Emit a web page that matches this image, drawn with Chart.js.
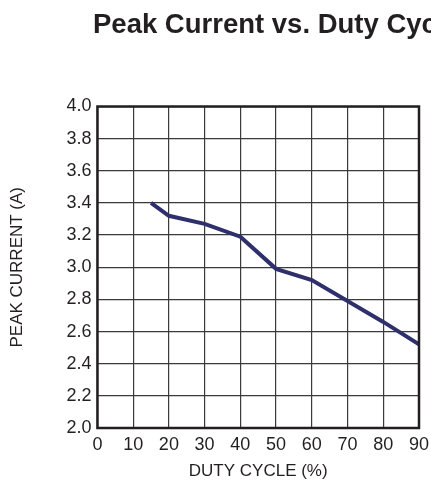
<!DOCTYPE html>
<html>
<head>
<meta charset="utf-8">
<script src="https://cdn.jsdelivr.net/npm/chart.js@4/dist/chart.umd.min.js"></script>
<style>
  html, body { margin: 0; padding: 0; background: #fff; overflow: hidden; }
  canvas { display: block; }
</style>
</head>
<body>
<canvas id="peakChart" width="492" height="485"></canvas>
<script>
// duty cycle (%) and peak current (A)
const dutyCycle = [15, 20, 30, 40, 50, 60, 70, 80, 90];
const peakCurrent = [3.40, 3.32, 3.27, 3.19, 2.99, 2.92, 2.79, 2.66, 2.52];

const xTicks = [0, 10, 20, 30, 40, 50, 60, 70, 80, 90];
const yTicks = [2.0, 2.2, 2.4, 2.6, 2.8, 3.0, 3.2, 3.4, 3.6, 3.8, 4.0];

const points = dutyCycle.map((x, i) => ({ x: x, y: peakCurrent[i] }));

// heavy frame round the plot area (top and right sides too),
// and the title started at x=93 like in the cropped original
const frame = {
    id: "frame",
    afterLayout(chart) {
        const t = chart.titleBlock;
        if (t) { t.left = 93; t.right = 600; }
    },
    afterDraw(chart) {
        const a = chart.chartArea;
        const c = chart.ctx;
        c.save();
        c.strokeStyle = "#231f20";
        c.lineWidth = 2.5;
        c.strokeRect(a.left, a.top, a.right - a.left, a.bottom - a.top);
        c.restore();
    }
};

Chart.defaults.font.family = "'Liberation Sans', Arial, sans-serif";
Chart.defaults.color = "#231f20";

new Chart(document.getElementById("peakChart").getContext("2d"), {
    type: "line",
    data: {
        datasets: [{
            data: points,
            borderColor: "#2e2f6b",
            borderWidth: 4,
            pointRadius: 0,
            tension: 0,
            fill: false
        }]
    },
    options: {
        responsive: false,
        animation: false,
        layout: { padding: { left: 7, right: 73, top: 9, bottom: 3 } },
        plugins: {
            legend: { display: false },
            tooltip: { enabled: false },
            title: {
                display: true,
                text: "Peak Current vs. Duty Cycle",
                align: "start",
                font: { size: 27.5, weight: "bold" },
                color: "#231f20",
                padding: { top: 0, bottom: 64.5 }
            }
        },
        scales: {
            x: {
                type: "linear",
                min: xTicks[0],
                max: xTicks[xTicks.length - 1],
                afterBuildTicks: axis => { axis.ticks = xTicks.map(v => ({ value: v })); },
                ticks: { font: { size: 18 }, padding: 6, maxRotation: 0 },
                grid: { color: "#3a3a3a", lineWidth: 1.2, drawTicks: false },
                border: { display: false },
                title: { display: true, text: "DUTY CYCLE (%)", font: { size: 17 }, padding: { top: 0, bottom: 0 } }
            },
            y: {
                min: yTicks[0],
                max: yTicks[yTicks.length - 1],
                afterBuildTicks: axis => { axis.ticks = yTicks.map(v => ({ value: v })); },
                ticks: { font: { size: 18 }, padding: 6, callback: v => v.toFixed(1) },
                grid: { color: "#3a3a3a", lineWidth: 1.2, drawTicks: false },
                border: { display: false },
                title: { display: true, text: "PEAK CURRENT (A)", font: { size: 17 }, padding: { top: 0, bottom: 33 } }
            }
        }
    },
    plugins: [frame]
});
</script>
</body>
</html>
